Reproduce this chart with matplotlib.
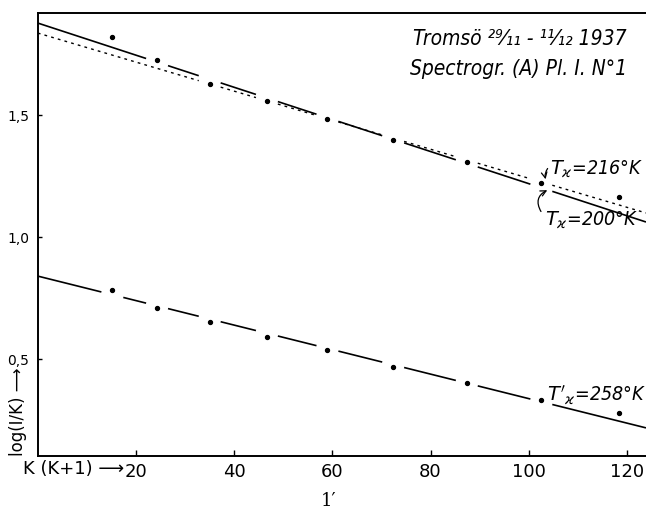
import numpy as np
import matplotlib
matplotlib.use("Agg")
import matplotlib.pyplot as plt
from matplotlib import font_manager

# K(K+1) positions of the measured lines
kk = [15.2, 24.3, 35.0, 46.7, 59.0, 72.4, 87.4, 102.6, 118.3]
# log(I/K) for the upper series and the primed (lower) series
upper = [1.821, 1.724, 1.628, 1.557, 1.485, 1.398, 1.309, 1.223, 1.164]
lower = [0.783, 0.708, 0.650, 0.591, 0.537, 0.469, 0.403, 0.333, 0.280]

# fitted straight lines: (intercept, slope)
fit_200 = (1.877, -0.00658)
fit_216 = (1.836, -0.00595)
fit_258 = (0.840, -0.00502)

xticks = [20, 40, 60, 80, 100, 120]
yticks = [0.5, 1.0, 1.5]
ytick_labels = ["0,5", "1,0", "1,5"]

# narrow lettering for the handwritten-style labels, if a narrow face exists
names = {f.name for f in font_manager.fontManager.ttflist}
narrow = "Liberation Sans Narrow" if "Liberation Sans Narrow" in names else "DejaVu Sans"

W, H = 646, 512
fig = plt.figure(figsize=(W / 100, H / 100), dpi=100)
x0, x1 = 37.8, 646
y_top, y_bot = 13.3, 455.7
ax = fig.add_axes([x0 / W, 1 - y_bot / H, (x1 - x0) / W, (y_bot - y_top) / H])
xmax = 123.9
ax.set_xlim(0, xmax)
ax.set_ylim(0.104, 1.917)


def broken_line(fit, xs, ys, gap=2.2, tol=0.03):
    """Straight fit line, interrupted around the points lying on it."""
    a, b = fit
    xg = np.linspace(0, xmax, 2000)
    yg = a + b * xg
    for xp, yp in zip(xs, ys):
        if abs(yp - (a + b * xp)) < tol:
            yg[np.abs(xg - xp) < gap] = np.nan
    return xg, yg


xg, yg = broken_line(fit_200, kk, upper)
ax.plot(xg, yg, color="black", lw=1.2, solid_capstyle="butt")
xg, yg = broken_line(fit_216, kk, upper)
ax.plot(xg, yg, color="black", lw=1.0, linestyle=(0, (2, 3)))
xg, yg = broken_line(fit_258, kk, lower)
ax.plot(xg, yg, color="black", lw=1.2, solid_capstyle="butt")

ax.scatter(kk, upper, s=8, color="black", zorder=3)
ax.scatter(kk, lower, s=8, color="black", zorder=3)

# axes styling
for side in ("left", "bottom", "top"):
    ax.spines[side].set_linewidth(1.4)
ax.spines["right"].set_visible(False)
ax.set_xticks(xticks)
ax.set_xticklabels([str(t) for t in xticks], fontsize=13)
ax.set_yticks(yticks)
ax.set_yticklabels(ytick_labels, fontsize=10)
ax.tick_params(axis="x", direction="in", length=4, width=1, pad=5)
ax.tick_params(axis="y", direction="in", length=3, width=1, pad=6)

# axis captions
fig.text(23 / W, 1 - 469 / H, "K (K+1) \u27f6", fontsize=13, ha="left", va="center")
fig.text(18 / W, 1 - 412 / H, "log(I/K) \u27f6", fontsize=12, rotation=90,
         ha="center", va="center")

# heading
head = dict(fontsize=15, style="italic", ha="right", va="center",
            family=narrow, fontstretch="condensed")
fig.text(627 / W, 1 - 39 / H, "Tromsö ²⁹⁄₁₁ - ¹¹⁄₁₂ 1937", **head)
fig.text(627 / W, 1 - 69 / H, "Spectrogr. (A) Pl. I. N°1", **head)

# temperature annotations
lab = dict(fontsize=14, style="italic", ha="left", va="center",
           family=narrow, fontstretch="condensed", clip_on=False)
ax.text(104.4, 1.277, r"$T_{\varkappa}$=216°K", **lab)
ax.annotate("", xy=(103.6, 1.226), xytext=(104.2, 1.29),
            arrowprops=dict(arrowstyle="->", lw=0.9, color="black",
                            connectionstyle="arc3,rad=0.3"))
ax.text(103.3, 1.070, r"$T_{\varkappa}$=200°K", **lab)
ax.annotate("", xy=(104.3, 1.197), xytext=(102.8, 1.095),
            arrowprops=dict(arrowstyle="->", lw=0.9, color="black",
                            connectionstyle="arc3,rad=-0.6"))
ax.text(103.7, 0.352, r"$T'_{\varkappa}$=258°K", **lab)

fig.text(329 / W, 1 - 501 / H, "1′", fontsize=13, family="DejaVu Serif",
         ha="center", va="center")

fig.savefig("out.png", dpi=100)
